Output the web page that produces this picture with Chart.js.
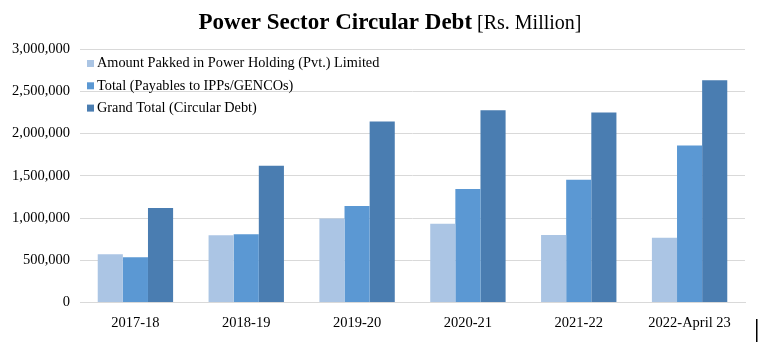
<!DOCTYPE html>
<html>
<head>
<meta charset="utf-8">
<script src="https://cdn.jsdelivr.net/npm/chart.js@4/dist/chart.umd.min.js"></script>
<style>
  html, body { margin: 0; padding: 0; background: #fff; }
  #wrap { width: 759px; height: 347px; position: relative; }
</style>
</head>
<body>
<div id="wrap"><canvas id="debtChart"></canvas></div>
<script>
const years = ['2017-18', '2018-19', '2019-20', '2020-21', '2021-22', '2022-April 23'];
const parkedPHL = [571000, 798000, 996000, 932000, 800000, 766000];
const payablesIPP = [536000, 810000, 1143000, 1345000, 1452000, 1857000];
const grandTotal = [1119000, 1620000, 2143000, 2274000, 2250000, 2631000];
const yTicks = [0, 500000, 1000000, 1500000, 2000000, 2500000, 3000000];

const seriesNames = [
  'Amount Pakked in Power Holding (Pvt.) Limited',
  'Total (Payables to IPPs/GENCOs)',
  'Grand Total (Circular Debt)'
];
const seriesColors = ['#abc5e4', '#5b98d3', '#4a7db1'];

const serif = '"Liberation Serif", "Times New Roman", serif';

// title with a bold main part and a regular unit suffix
const titlePlugin = {
  id: 'mixedTitle',
  afterDraw(chart) {
    const c = chart.ctx;
    const main = 'Power Sector Circular Debt';
    const unit = ' [Rs. Million]';
    c.save();
    c.textBaseline = 'alphabetic';
    c.font = 'bold 23px ' + serif;
    const w1 = c.measureText(main).width;
    c.font = '20px ' + serif;
    const w2 = c.measureText(unit).width;
    let x = 390 - (w1 + w2) / 2;
    c.fillStyle = '#000';
    c.font = 'bold 23px ' + serif;
    c.fillText(main, x, 29);
    c.font = '20px ' + serif;
    c.fillText(unit, x + w1, 29);
    // small mark at bottom right corner
    c.fillRect(756, 319, 1.5, 23);
    c.restore();
  }
};

// vertical legend placed inside the plot area
const legendPlugin = {
  id: 'innerLegend',
  afterDraw(chart) {
    const c = chart.ctx;
    c.save();
    c.font = '14.3px ' + serif;
    c.textBaseline = 'middle';
    seriesNames.forEach((name, i) => {
      const y = 63.5 + i * 22.3;
      c.fillStyle = seriesColors[i];
      c.fillRect(87, y - 3.5, 7, 7);
      c.fillStyle = '#000';
      c.fillText(name, 97, y);
    });
    c.restore();
  }
};

new Chart(document.getElementById('debtChart'), {
  type: 'bar',
  data: {
    labels: years,
    datasets: [
      { label: seriesNames[0], data: parkedPHL, backgroundColor: seriesColors[0] },
      { label: seriesNames[1], data: payablesIPP, backgroundColor: seriesColors[1] },
      { label: seriesNames[2], data: grandTotal, backgroundColor: seriesColors[2] }
    ]
  },
  options: {
    responsive: true,
    maintainAspectRatio: false,
    animation: false,
    layout: { padding: { top: 49, right: 14, bottom: 11, left: 0 } },
    datasets: { bar: { categoryPercentage: 0.68, barPercentage: 1 } },
    plugins: {
      legend: { display: false },
      title: { display: false },
      tooltip: { enabled: false }
    },
    scales: {
      x: {
        grid: { display: false },
        border: { color: '#d9d9d9' },
        ticks: { color: '#000', font: { family: serif, size: 14.5 }, padding: 4, maxRotation: 0 }
      },
      y: {
        min: 0,
        max: 3000000,
        afterFit(scale) { scale.width = 80; },
        afterBuildTicks(scale) { scale.ticks = yTicks.map(v => ({ value: v })); },
        grid: { color: '#d9d9d9', drawTicks: false },
        border: { display: false },
        ticks: {
          color: '#000',
          font: { family: serif, size: 14.5 },
          padding: 10,
          callback: v => v.toLocaleString('en-US')
        }
      }
    }
  },
  plugins: [titlePlugin, legendPlugin]
});
</script>
</body>
</html>
